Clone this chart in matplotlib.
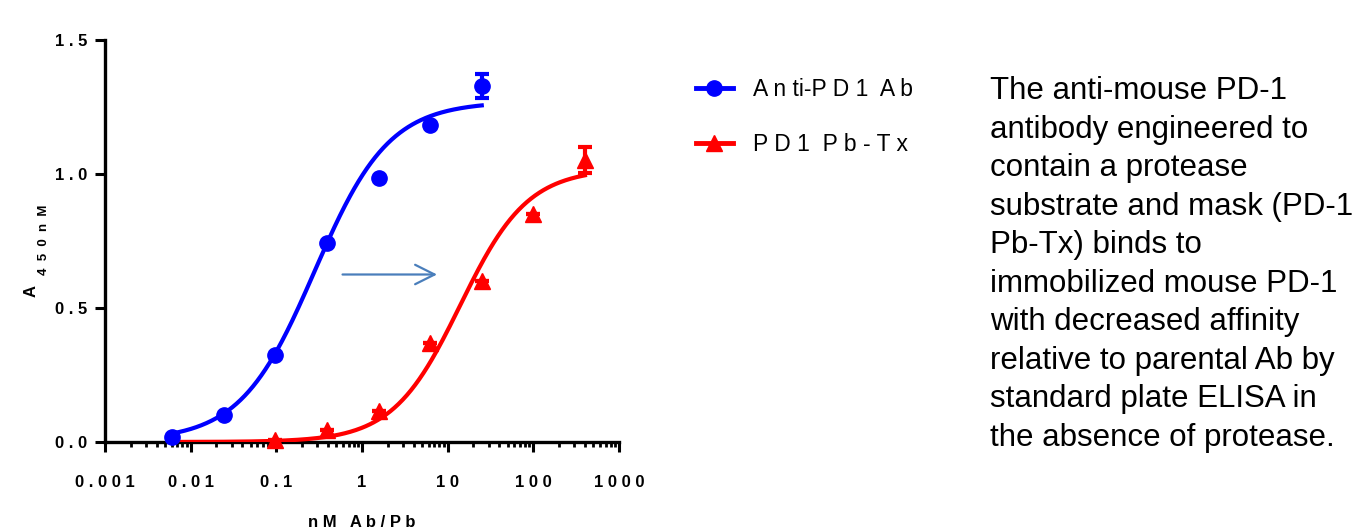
import matplotlib.pyplot as plt
import numpy as np
from matplotlib.lines import Line2D

plt.rcParams['font.family'] = ['Liberation Sans', 'DejaVu Sans']

## DADES (llegides de la figura)
conc = [0.0061, 0.0244, 0.0977, 0.39, 1.5625, 6.25, 25, 100, 400]   # nM, dilucions 1:4

ab_x = conc[:7]
ab_y = [0.019, 0.102, 0.325, 0.744, 0.986, 1.182, 1.330]
ab_err = [0, 0, 0, 0, 0, 0, 0.045]

tx_x = conc[2:]
tx_y = [0.008, 0.044, 0.117, 0.370, 0.600, 0.850, 1.052]
tx_err = [0, 0, 0, 0, 0, 0, 0.050]

# parametres de l'ajust sigmoidal (4PL) llegits de les corbes
ab_fit = dict(bottom=0.005, top=1.27, ec50=0.28, hill=1.0)
tx_fit = dict(bottom=0.0, top=1.02, ec50=14.0, hill=1.1)

xticks = [0.001, 0.01, 0.1, 1, 10, 100, 1000]
xtick_txt = ['0.001', '0.01', '0.1', '1', '10', '100', '1000']
yticks = [0.0, 0.5, 1.0, 1.5]
ytick_txt = ['0.0', '0.5', '1.0', '1.5']

arrow_from = (0.55, 0.625)
arrow_to = (8.1, 0.625)

text_right = ("The anti-mouse PD-1\nantibody engineered to\ncontain a protease\n"
              "substrate and mask (PD-1\nPb-Tx) binds to\nimmobilized mouse PD-1\n"
              "with decreased affinity\nrelative to parental Ab by\nstandard plate ELISA in\n"
              "the absence of protease.")


def spaced(s, sep=' '):
    return sep.join(list(s))


def fourpl(x, p):
    return p['bottom'] + (p['top'] - p['bottom']) / (1 + (p['ec50'] / x) ** p['hill'])


fig = plt.figure(figsize=(13.6, 5.32), dpi=100)
ax = fig.add_axes([105/1360, 90/532, 514/1360, 402/532])

blue = '#0000FF'
red = '#FF0000'

xa = np.logspace(np.log10(ab_x[0]), np.log10(ab_x[-1]), 300)
xt = np.logspace(np.log10(conc[0]), np.log10(tx_x[-1]), 300)
ax.plot(xa, fourpl(xa, ab_fit), '-', color=blue, lw=3, zorder=3)
ax.plot(xt, fourpl(xt, tx_fit), '-', color=red, lw=3, zorder=3)

ax.errorbar(ab_x, ab_y, yerr=ab_err, fmt='o', color=blue, ms=11, elinewidth=3,
            capsize=5, capthick=3, zorder=4, clip_on=False)
ax.errorbar(tx_x, tx_y, yerr=tx_err, fmt='^', color=red, ms=11, elinewidth=3,
            capsize=5, capthick=3, zorder=4, clip_on=False)

ax.annotate('', xy=arrow_to, xytext=arrow_from,
            arrowprops=dict(arrowstyle='->,head_length=1.4,head_width=0.7',
                            color='#4A7EBB', lw=1.6))

ax.set_xscale('log')
ax.set_xlim(0.001, 1000)
ax.set_ylim(0, 1.5)
ax.set_xticks(xticks)
ax.set_xticklabels([spaced(s) for s in xtick_txt], fontsize=12, fontweight='bold')
ax.set_yticks(yticks)
ax.set_yticklabels([spaced(s) for s in ytick_txt], fontsize=12, fontweight='bold')
ax.xaxis.set_minor_locator(plt.matplotlib.ticker.LogLocator(base=10, subs=np.arange(2, 10)))
ax.xaxis.set_minor_formatter(plt.NullFormatter())
ax.tick_params(axis='both', which='major', direction='out', length=7, width=2.2)
ax.tick_params(axis='x', which='major', pad=17)
ax.tick_params(axis='y', which='major', pad=6)
ax.tick_params(axis='x', which='minor', direction='out', length=3.5, width=2)
for s in ['top', 'right']:
    ax.spines[s].set_visible(False)
for s in ['left', 'bottom']:
    ax.spines[s].set_linewidth(2.4)

ax.set_xlabel(spaced('nM') + '   ' + spaced('Ab/Pb'), fontsize=12, fontweight='bold', labelpad=18)

# etiqueta eix Y amb subindex
fig.text(31/1360, 1 - 291/532, 'A', rotation=90, fontsize=12, fontweight='bold',
         ha='center', va='center')
fig.text(44/1360, 1 - 240/532, spaced('450nM', '  '), rotation=90, fontsize=9.5,
         fontweight='bold', ha='center', va='center')

# llegenda
h_ab = Line2D([], [], color=blue, lw=3.5, marker='o', ms=11)
h_tx = Line2D([], [], color=red, lw=3.5, marker='^', ms=11)
fig.legend([h_ab, h_tx], ['A n ti-P D 1  A b', 'P D 1  P b - T x'],
           loc='upper left', bbox_to_anchor=(675/1360, 1 - 57/532), frameon=False,
           fontsize=16.5, handlelength=1.62, handletextpad=0.87, labelspacing=1.42)

fig.text(990/1360, 1 - 76/532, text_right, fontsize=22.5, ha='left', va='top',
         linespacing=1.37)

plt.savefig('out.png', dpi=100)
